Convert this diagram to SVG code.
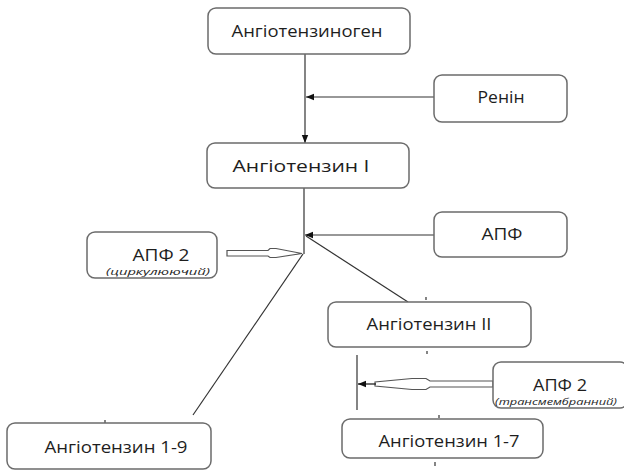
<svg xmlns="http://www.w3.org/2000/svg" width="624" height="470" viewBox="0 0 624 470">
<defs>
<style>
.box{fill:#fff;stroke:#6b6b6b;stroke-width:1.5}
.t{font-family:"Open Sans","Liberation Sans",sans-serif;font-size:16px;fill:#1e1e1e;text-anchor:middle}
.s{font-family:"Open Sans","Liberation Sans",sans-serif;font-size:9.5px;font-style:italic;fill:#1e1e1e;text-anchor:middle}
.ln{stroke:#333;stroke-width:1.2;fill:none}
.hol{fill:#fff;stroke:#555;stroke-width:1.2}
</style>
<marker id="ah" viewBox="0 0 10 10" refX="10" refY="5" markerWidth="8" markerHeight="8" markerUnits="userSpaceOnUse" orient="auto">
<path d="M0,1 L10,5 L0,9 Z" fill="#111"/>
</marker>
</defs>
<rect width="624" height="470" fill="#fff"/>
<g id="connectors">
<line class="ln" x1="305" y1="54" x2="305" y2="143" marker-end="url(#ah)"/>
<line class="ln" x1="434" y1="97" x2="306" y2="97" marker-end="url(#ah)"/>
<line class="ln" x1="304" y1="188" x2="304" y2="254"/>
<line class="ln" x1="434" y1="235" x2="305" y2="235" marker-end="url(#ah)"/>
<line class="ln" x1="408" y1="302" x2="306" y2="236"/>
<line class="ln" x1="303" y1="254" x2="193" y2="415"/>
<path class="hol" d="M227,250.5 L268,250.5 L270,248.5 L276,248.5 L302,253.5 L276,257.5 L270,257.5 L268,256 L227,256 Z"/>
<line class="ln" x1="357" y1="355" x2="357" y2="410"/>
<path class="hol" d="M493,381 L430,381 L426,378.5 L412,378.5 L375,382 L375,386 L412,389.5 L426,389.5 L430,387 L493,387 Z"/>
<line x1="376" y1="384" x2="358" y2="384" stroke="#111" stroke-width="1.2" marker-end="url(#ah)"/>
<line class="ln" x1="426" y1="297" x2="426" y2="300"/>
<line class="ln" x1="427" y1="351" x2="427" y2="354"/>
<line class="ln" x1="439" y1="415" x2="439" y2="418"/>
<line class="ln" x1="435" y1="462" x2="435" y2="466"/>
<line class="ln" x1="105" y1="420" x2="105" y2="423"/>
</g>
<g id="angiotensinogen">
<rect class="box" x="208" y="8" width="202" height="46" rx="8"/>
<text class="t" x="307" y="37" textLength="151" lengthAdjust="spacingAndGlyphs">Ангіотензиноген</text>
</g>
<g id="renin">
<rect class="box" x="434" y="75" width="133" height="47" rx="8"/>
<text class="t" x="501" y="103" textLength="47" lengthAdjust="spacingAndGlyphs">Ренін</text>
</g>
<g id="angiotensin1">
<rect class="box" x="207" y="143" width="202" height="45" rx="8"/>
<text class="t" x="301" y="172" textLength="137" lengthAdjust="spacingAndGlyphs">Ангіотензин І</text>
</g>
<g id="apf">
<rect class="box" x="434" y="212" width="133" height="45" rx="8"/>
<text class="t" x="502" y="240" textLength="41" lengthAdjust="spacingAndGlyphs">АПФ</text>
</g>
<g id="apf2-circ">
<rect class="box" x="87" y="232" width="130" height="46" rx="8"/>
<text class="t" x="161" y="261" style="font-size:17px" textLength="57" lengthAdjust="spacingAndGlyphs">АПФ 2</text>
<text class="s" x="158" y="275" textLength="104" lengthAdjust="spacingAndGlyphs">(циркулюючий)</text>
</g>
<g id="angiotensin2">
<rect class="box" x="328" y="302" width="203" height="45" rx="8"/>
<text class="t" x="429" y="330" textLength="125" lengthAdjust="spacingAndGlyphs">Ангіотензин ІІ</text>
</g>
<g id="apf2-trans">
<rect class="box" x="493" y="362" width="135" height="46" rx="8"/>
<text class="t" x="560" y="391" style="font-size:17px" textLength="54" lengthAdjust="spacingAndGlyphs">АПФ 2</text>
<text class="s" x="556" y="405" textLength="122" lengthAdjust="spacingAndGlyphs">(трансмембранний)</text>
</g>
<g id="angiotensin17">
<rect class="box" x="342" y="419" width="201" height="39" rx="8"/>
<text class="t" x="449" y="447" textLength="141" lengthAdjust="spacingAndGlyphs">Ангіотензин 1-7</text>
</g>
<g id="angiotensin19">
<rect class="box" x="7" y="423" width="204" height="46" rx="8"/>
<text class="t" x="116" y="453" textLength="143" lengthAdjust="spacingAndGlyphs">Ангіотензин 1-9</text>
</g>
</svg>
